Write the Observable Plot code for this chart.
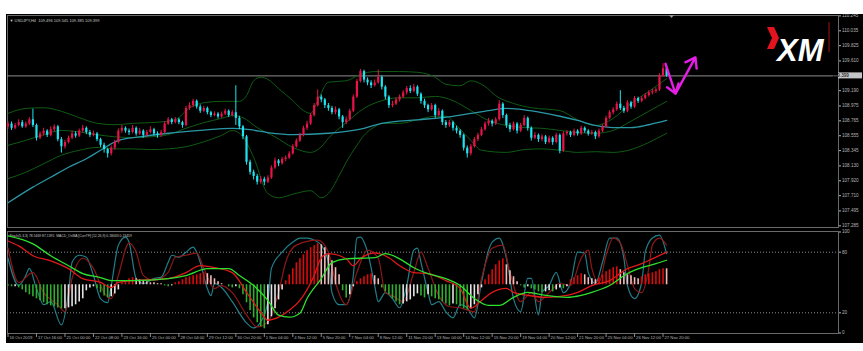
<!DOCTYPE html>
<html><head><meta charset="utf-8">
<script src="https://cdn.jsdelivr.net/npm/d3@7"></script>
<script src="https://cdn.jsdelivr.net/npm/@observablehq/plot@0.6"></script>
<style>
html,body{margin:0;padding:0;background:#fff;}
body{width:863px;height:351px;overflow:hidden;position:relative;}
#wrap{position:absolute;left:6px;top:14px;width:857px;height:329px;background:#000;overflow:hidden;}
#wrap svg{position:absolute;left:0;}
</style></head>
<body><div id="wrap"></div>
<script>
// ---------- DATA ----------
const chartHeader = "\u25BC USDJPY,H4  109.496 109.545 109.385 109.399";
const subHeader = "Stoch(5,3,3) 78.5469 87.1395  MACD_OsMA [CurrTF] (12,26,9) 0.18033 0.13459";
const currentPrice = 109.399;
const priceTicks = [110.245,110.035,109.825,109.610,109.190,108.975,108.765,108.555,108.345,108.130,107.920,107.710,107.495,107.285];
const stochTicks = [100,80,20,0];
const stochLevels = [80,20];
const timeIdx = [0,8,16,24,32,40,48,56,64,72,80,88,96,104,112,120,128,136,144,152,160,168,176,184];
const timeLabels = ["16 Oct 2019","17 Oct 16:00","21 Oct 00:00","22 Oct 08:00","23 Oct 16:00","25 Oct 00:00","28 Oct 04:00","29 Oct 12:00","30 Oct 20:00","1 Nov 04:00","4 Nov 12:00","5 Nov 20:00","7 Nov 04:00","8 Nov 12:00","11 Nov 20:00","13 Nov 04:00","14 Nov 12:00","15 Nov 20:00","19 Nov 04:00","20 Nov 12:00","21 Nov 20:00","25 Nov 04:00","26 Nov 12:00","27 Nov 20:00"];

const open = [108.68,108.72,108.66,108.70,108.74,108.68,108.72,108.78,108.70,108.52,
108.58,108.62,108.56,108.64,108.68,108.50,108.40,108.46,108.52,108.58,
108.55,108.62,108.66,108.60,108.56,108.58,108.50,108.42,108.36,108.30,
108.38,108.46,108.62,108.66,108.62,108.60,108.66,108.58,108.62,108.56,
108.60,108.64,108.58,108.56,108.60,108.72,108.78,108.74,108.78,108.74,
108.70,108.94,108.98,109.04,108.96,108.90,108.94,108.88,108.84,108.86,
108.82,108.86,108.90,108.84,108.88,108.80,108.68,108.54,108.18,108.04,
107.98,107.90,107.94,107.90,107.96,108.10,108.20,108.16,108.22,108.24,
108.30,108.40,108.48,108.56,108.66,108.72,108.84,108.98,109.10,109.06,
108.98,108.94,108.88,108.92,108.82,108.74,108.78,108.90,109.10,109.32,
109.46,109.34,109.30,109.26,109.30,109.38,109.24,109.10,108.98,109.00,
109.06,109.10,109.16,109.22,109.18,109.24,109.14,109.04,108.98,108.92,
108.98,108.84,108.90,108.74,108.70,108.74,108.66,108.62,108.56,108.38,
108.30,108.40,108.50,108.56,108.64,108.72,108.76,108.72,108.78,109.00,
108.84,108.70,108.64,108.72,108.62,108.70,108.80,108.66,108.52,108.56,
108.50,108.54,108.46,108.52,108.46,108.56,108.34,108.58,108.60,108.56,
108.62,108.58,108.66,108.62,108.58,108.60,108.54,108.62,108.68,108.80,
108.88,108.92,109.00,108.94,108.90,109.02,108.96,109.08,109.04,109.08,
109.12,109.16,109.18,109.20,109.40,109.50];
const high = [108.75,108.75,108.73,108.78,108.77,108.75,108.81,108.93,108.72,108.61,
108.66,108.64,108.68,108.71,108.70,108.53,108.49,108.55,108.62,108.61,
108.65,108.70,108.68,108.63,108.62,108.60,108.52,108.45,108.38,108.41,
108.49,108.65,108.70,108.68,108.65,108.70,108.68,108.66,108.64,108.63,
108.68,108.66,108.61,108.63,108.75,108.81,108.80,108.81,108.80,108.76,
108.97,109.02,109.07,109.06,108.99,108.97,108.96,108.90,108.89,108.88,
108.89,108.93,108.92,108.91,109.26,108.83,108.70,108.56,108.21,108.07,
108.01,107.98,107.97,107.99,108.13,108.24,108.22,108.25,108.27,108.33,
108.43,108.51,108.59,108.69,108.76,108.87,109.01,109.20,109.13,109.08,
109.01,108.97,108.96,108.94,108.84,108.82,108.93,109.13,109.35,109.49,
109.48,109.37,109.33,109.34,109.48,109.40,109.26,109.12,109.04,109.09,
109.13,109.19,109.25,109.26,109.28,109.26,109.16,109.07,109.00,109.01,
109.00,108.94,108.92,108.77,108.77,108.76,108.69,108.64,108.58,108.41,
108.43,108.53,108.59,108.67,108.75,108.80,108.78,108.81,109.05,109.02,
108.86,108.73,108.75,108.74,108.73,108.84,108.82,108.68,108.60,108.58,
108.57,108.56,108.55,108.54,108.59,108.58,108.61,108.63,108.62,108.65,
108.64,108.69,108.68,108.64,108.63,108.62,108.65,108.71,108.83,108.91,
108.95,109.03,109.19,108.97,109.05,109.04,109.11,109.10,109.11,109.15,
109.19,109.21,109.23,109.43,109.57,109.55];
const low = [108.65,108.63,108.64,108.68,108.66,108.66,108.70,108.67,108.48,108.50,
108.55,108.53,108.54,108.61,108.47,108.31,108.37,108.44,108.50,108.52,
108.53,108.59,108.57,108.53,108.54,108.47,108.39,108.31,108.24,108.27,
108.35,108.44,108.59,108.59,108.56,108.58,108.55,108.56,108.52,108.54,
108.58,108.55,108.52,108.53,108.58,108.70,108.71,108.72,108.71,108.66,
108.68,108.91,108.95,108.93,108.87,108.88,108.85,108.81,108.82,108.79,
108.80,108.84,108.81,108.82,108.70,108.64,108.50,108.14,108.00,107.93,
107.86,107.87,107.85,107.88,107.94,108.08,108.12,108.14,108.19,108.22,
108.28,108.38,108.46,108.54,108.63,108.70,108.82,108.96,109.02,108.94,
108.90,108.85,108.85,108.78,108.66,108.71,108.76,108.88,109.08,109.30,
109.30,109.26,109.22,109.24,109.28,109.20,109.06,108.94,108.95,108.98,
109.03,109.08,109.13,109.15,109.16,109.11,109.00,108.94,108.88,108.90,
108.80,108.82,108.70,108.66,108.67,108.62,108.58,108.52,108.34,108.24,
108.27,108.38,108.47,108.54,108.62,108.69,108.68,108.70,108.76,108.80,
108.66,108.60,108.62,108.58,108.60,108.68,108.62,108.48,108.50,108.46,
108.47,108.43,108.44,108.42,108.44,108.30,108.32,108.55,108.53,108.54,
108.55,108.56,108.59,108.55,108.56,108.50,108.52,108.60,108.66,108.78,
108.85,108.90,108.91,108.87,108.88,108.93,108.94,109.01,109.02,109.06,
109.10,109.13,109.15,109.18,109.38,109.38];
const close = [108.72,108.66,108.70,108.74,108.68,108.72,108.78,108.70,108.52,108.58,
108.62,108.56,108.64,108.68,108.50,108.40,108.46,108.52,108.58,108.55,
108.62,108.66,108.60,108.56,108.58,108.50,108.42,108.36,108.30,108.38,
108.46,108.62,108.66,108.62,108.60,108.66,108.58,108.62,108.56,108.60,
108.64,108.58,108.56,108.60,108.72,108.78,108.74,108.78,108.74,108.70,
108.94,108.98,109.04,108.96,108.90,108.94,108.88,108.84,108.86,108.82,
108.86,108.90,108.84,108.88,108.80,108.68,108.54,108.18,108.04,107.98,
107.90,107.94,107.90,107.96,108.10,108.20,108.16,108.22,108.24,108.30,
108.40,108.48,108.56,108.66,108.72,108.84,108.98,109.10,109.06,108.98,
108.94,108.88,108.92,108.82,108.74,108.78,108.90,109.10,109.32,109.46,
109.34,109.30,109.26,109.30,109.38,109.24,109.10,108.98,109.00,109.06,
109.10,109.16,109.22,109.18,109.24,109.14,109.04,108.98,108.92,108.98,
108.84,108.90,108.74,108.70,108.74,108.66,108.62,108.56,108.38,108.30,
108.40,108.50,108.56,108.64,108.72,108.76,108.72,108.78,109.00,108.84,
108.70,108.64,108.72,108.62,108.70,108.80,108.66,108.52,108.56,108.50,
108.54,108.46,108.52,108.46,108.56,108.34,108.58,108.60,108.56,108.62,
108.58,108.66,108.62,108.58,108.60,108.54,108.62,108.68,108.80,108.88,
108.92,109.00,108.94,108.90,109.02,108.96,109.08,109.04,109.08,109.12,
109.16,109.18,109.20,109.40,109.50,109.40];

const bbUpIdx = [0,5,10,15,20,25,30,35,40,45,48,50,55,60,65,67,69,71,73,76,80,83,85,87,90,95,99,103,110,115,120,123,127,130,134,137,142,147,155,160,165,170,175,180,185];
const bbUp = [108.87,108.94,108.95,108.90,108.81,108.73,108.71,108.73,108.74,108.76,108.81,108.91,109.02,109.04,109.04,109.12,109.33,109.38,109.35,109.22,109.05,108.91,108.87,109.05,109.31,109.33,109.42,109.46,109.46,109.45,109.38,109.28,109.26,109.33,109.25,109.12,109.01,108.95,108.91,108.78,108.70,108.80,109.01,109.18,109.36];
const bbMidIdx = [0,5,10,15,20,25,30,35,40,45,50,55,60,63,66,70,75,80,85,88,90,95,100,105,110,115,120,125,130,135,140,145,150,155,160,165,170,175,180,185];
const bbMid = [108.42,108.49,108.57,108.63,108.61,108.57,108.54,108.53,108.54,108.57,108.66,108.74,108.80,108.84,108.81,108.67,108.54,108.39,108.32,108.40,108.52,108.74,108.94,109.05,109.09,109.09,109.11,109.05,108.91,108.77,108.70,108.67,108.66,108.63,108.60,108.59,108.63,108.76,108.90,109.04];
const bbLowIdx = [0,5,10,15,20,25,30,35,40,45,50,55,60,63,66,69,73,76,80,85,88,90,93,95,98,100,103,105,110,115,120,123,126,130,133,140,145,150,155,160,165,170,175,180,185];
const bbLow = [107.95,108.04,108.16,108.28,108.35,108.39,108.37,108.37,108.36,108.37,108.40,108.47,108.56,108.63,108.54,108.25,107.74,107.68,107.73,107.78,107.68,107.74,107.99,108.18,108.42,108.56,108.68,108.73,108.73,108.78,108.83,108.83,108.70,108.49,108.35,108.32,108.36,108.37,108.35,108.32,108.33,108.32,108.36,108.46,108.59];
const maIdx = [0,7,12,17,22,26,31,37,45,54,63,68,73,80,90,100,105,115,122,130,135,140,145,150,155,160,165,170,175,180,185];
const maVal = [107.61,107.83,107.97,108.11,108.23,108.35,108.49,108.54,108.59,108.63,108.66,108.64,108.60,108.57,108.59,108.66,108.73,108.78,108.81,108.87,108.91,108.94,108.92,108.88,108.83,108.77,108.70,108.67,108.67,108.71,108.77];

const arrowIdx = [184.7, 187.5, 193.1];
const arrowPrice = [109.57, 109.15, 109.66];

const kIdx = [0,3,5,6,8,10,12,15,17,18,20,22,24,26,28,29,31,33,34,36,38,41,43,45,46,48,50,52,53,54,56,57,58,60,63,67,69,71,73,74,77,80,82,84,86,88,90,91,93,95,97,98,99,101,103,104,106,108,110,112,114,115,116,118,119,121,123,125,127,129,131,133,135,136,138,140,142,144,146,147,149,150,152,154,156,158,160,162,163,165,167,169,171,173,174,176,178,179,181,183,185];
const kVal = [74,47,57,64,44,28,31,8,40,70,77,75,57,34,30,47,87,95,90,54,49,54,55,70,77,75,80,85,80,70,44,37,49,45,31,10,5,11,31,64,80,90,94,94,92,87,70,40,28,28,57,94,95,80,47,31,40,34,25,47,82,84,70,40,28,31,21,15,28,25,15,50,82,90,94,74,34,21,54,54,18,40,47,60,40,49,80,79,60,49,70,94,94,74,47,34,50,80,94,97,78.5];
const dIdx = [0,3,7,10,14,16,18,21,24,27,29,31,34,36,38,41,45,47,50,53,55,58,60,63,67,70,73,76,78,81,87,90,92,95,98,101,104,106,108,111,114,116,118,121,124,127,131,133,136,139,141,144,147,149,152,155,158,161,163,164,166,168,170,172,174,176,178,180,181,183,185];
const dVal = [84,50,60,40,28,21,54,74,64,40,34,57,89,80,57,52,60,75,77,79,64,44,47,40,18,6,11,40,70,87,92,80,50,28,60,82,74,40,37,31,60,80,64,37,26,25,21,54,84,87,60,31,40,31,40,49,47,74,82,64,50,77,94,89,67,44,40,64,87,94,87.1];

const macdIdx = [0,3,7,12,17,21,26,29,31,35,45,50,54,58,63,67,71,73,76,79,82,86,88,90,95,97,99,103,107,110,114,118,123,127,130,133,136,140,142,146,151,157,160,164,169,174,178,181,185];
const macdVal = [0.241,0.214,0.160,0.132,0.089,0.034,0.013,-0.015,0.013,0.023,0.034,0.067,0.105,0.094,0.067,-0.042,-0.151,-0.195,-0.178,-0.140,-0.086,0.051,0.149,0.171,0.143,0.105,0.143,0.176,0.149,0.105,0.067,0.062,0.023,-0.020,-0.129,-0.086,-0.042,-0.020,-0.042,-0.058,-0.069,-0.058,-0.042,-0.004,0.023,0.089,0.116,0.143,0.180];
const sigIdx = [0,7,12,17,21,26,29,35,45,50,56,62,65,69,73,76,79,82,84,88,91,95,103,106,110,114,118,123,127,131,135,138,142,146,151,157,161,164,169,174,178,182,185];
const sigVal = [0.269,0.225,0.160,0.105,0.062,0.040,0.023,0.023,0.034,0.051,0.089,0.089,0.051,-0.004,-0.086,-0.167,-0.178,-0.156,-0.075,0.034,0.122,0.143,0.149,0.171,0.143,0.094,0.062,0.034,-0.004,-0.075,-0.113,-0.113,-0.069,-0.042,-0.058,-0.069,-0.058,-0.042,-0.004,0.062,0.094,0.116,0.135];
const osma = [-0.006,-0.011,-0.011,-0.017,-0.028,-0.044,-0.055,-0.066,-0.077,-0.088,
-0.099,-0.110,-0.116,-0.121,-0.127,-0.132,-0.132,-0.127,-0.121,-0.110,
-0.094,-0.077,-0.033,-0.017,-0.011,-0.022,-0.044,-0.061,-0.072,-0.066,
-0.050,-0.028,0.011,0.022,0.033,0.039,0.033,0.028,0.022,0.017,
0.011,0.011,0.006,0.006,-0.006,-0.011,-0.006,0.011,0.017,0.028,
0.039,0.044,0.050,0.055,0.061,0.066,0.061,0.050,0.033,0.017,
0.006,0,-0.011,-0.017,-0.011,-0.022,-0.055,-0.099,-0.143,-0.182,
-0.209,-0.231,-0.242,-0.220,-0.176,-0.132,-0.083,-0.028,0.022,0.055,
0.088,0.121,0.143,0.165,0.187,0.204,0.215,0.226,0.220,0.204,
0.165,0.132,0.094,0.055,-0.033,-0.072,-0.055,-0.011,0.017,0.033,
0.044,0.055,0.061,0.050,0.033,-0.017,-0.039,-0.055,-0.077,-0.094,
-0.110,-0.105,-0.094,-0.083,-0.066,-0.050,-0.061,-0.072,-0.055,-0.066,
-0.077,-0.083,-0.094,-0.105,-0.116,-0.105,-0.110,-0.121,-0.132,-0.138,
-0.132,-0.110,-0.055,-0.017,0.028,0.055,0.083,0.110,0.132,0.143,
0.110,0.077,0.044,0.017,-0.006,-0.017,-0.011,-0.022,-0.028,-0.039,
-0.044,-0.039,-0.033,-0.039,-0.028,-0.017,-0.022,-0.011,0.028,0.039,
0.050,0.061,0.055,0.039,0.033,0.028,0.039,0.055,0.072,0.083,
0.094,0.099,0.083,0.066,0.055,0.050,0.039,0.033,0.044,0.055,
0.061,0.066,0.072,0.083,0.088,0.088];

// ---------- STYLE / LAYOUT ----------
const FONT = "'Liberation Sans', Arial, sans-serif";
const W = 857;
const X_DOMAIN = [0, 185];
const X_RANGE = [1.5, 660.1];
const BULL = "#e8134a", BEAR = "#1fe3ee";
const BB = "#0f5c14", MA = "#2a97a4";
const H_RED = "#dd0a0a", H_PINK = "#f2bcbc", H_GREEN = "#2fae2f", H_WHITE = "#e4e4e4";

const bars = close.map((c, i) => ({i, o: open[i], h: high[i], l: low[i], c}));
const pts = (idx, val) => idx.map((i, k) => ({i, v: val[k]}));
const candleColor = d => d.c > d.o ? BULL : BEAR;
const arrowSegs = arrowIdx.slice(1).map((_, k) => ({i1: arrowIdx[k], p1: arrowPrice[k], i2: arrowIdx[k + 1], p2: arrowPrice[k + 1]}));
const osmaData = osma.map((v, i) => {
  const prev = i ? osma[i - 1] : 0;
  const color = v >= 0 ? (v > prev ? H_RED : H_PINK) : (v < prev ? H_GREEN : H_WHITE);
  return {i, v, color};
});

const wrap = document.getElementById("wrap");

// ---------- MAIN PRICE PANEL ----------
const main = Plot.plot({
  width: W, height: 216,
  marginLeft: 1, marginRight: 25, marginTop: 1, marginBottom: 3,
  style: {background: "transparent", color: "#b4b4b4", fontSize: "4.6px", fontFamily: FONT, overflow: "visible"},
  x: {domain: X_DOMAIN, range: X_RANGE, axis: null},
  y: {domain: [107.285, 110.245], range: [211.3, 1.4], axis: "right", ticks: priceTicks, tickFormat: d => d.toFixed(3), tickSize: 2, tickPadding: 1.5, label: null},
  color: {type: "identity"},
  marks: [
    Plot.frame({stroke: "#6a6a6a"}),
    Plot.ruleY([currentPrice], {stroke: "#8e8e8e", strokeWidth: 1}),
    Plot.line(pts(bbUpIdx, bbUp), {x: "i", y: "v", stroke: BB, strokeWidth: 1, curve: "monotone-x"}),
    Plot.line(pts(bbMidIdx, bbMid), {x: "i", y: "v", stroke: BB, strokeWidth: 1, curve: "monotone-x"}),
    Plot.line(pts(bbLowIdx, bbLow), {x: "i", y: "v", stroke: BB, strokeWidth: 1, curve: "monotone-x"}),
    Plot.line(pts(maIdx, maVal), {x: "i", y: "v", stroke: MA, strokeWidth: 1.3, curve: "monotone-x"}),
    Plot.ruleX(bars, {x: "i", y1: "l", y2: "h", stroke: candleColor, strokeWidth: 1}),
    Plot.ruleX(bars, {x: "i", y1: "o", y2: "c", stroke: candleColor, strokeWidth: 2.2}),
    Plot.arrow(arrowSegs, {x1: "i1", y1: "p1", x2: "i2", y2: "p2", stroke: "#e41ee4", strokeWidth: 2.4, headLength: 7, headAngle: 70}),
    Plot.text([chartHeader], {frameAnchor: "top-left", dx: 2, dy: 4, textAnchor: "start", fontSize: 4, fill: "#c8c8c8"}),
    Plot.text(["XM"], {frameAnchor: "top-right", textAnchor: "end", dx: -15, dy: 23.5, fontSize: 31, fontWeight: "bold", fontStyle: "italic", fill: "#ffffff"})
  ]
});
main.style.top = "0px";
wrap.appendChild(main);
{
  const s = d3.select(main);
  const ys = main.scale("y");
  const yp = ys.apply(currentPrice);
  s.append("rect").attr("x", 832).attr("y", yp - 3).attr("width", 24).attr("height", 6).attr("fill", "#c4c4c4");
  s.append("text").attr("x", 834.5).attr("y", yp).attr("dy", "0.35em").attr("font-size", 4.6).attr("font-family", FONT).attr("fill", "#000").text(currentPrice.toFixed(3));
  s.append("polygon").attr("points", "761,13 768,13 773,24 768,35 761,35 766,24").attr("fill", "#e3141e");
  s.append("line").attr("x1", 823).attr("x2", 823).attr("y1", 8).attr("y2", 38).attr("stroke", "#a01010").attr("stroke-width", 1);
  s.append("polygon").attr("points", "663,1 668,1 665.5,4").attr("fill", "#9a9a9a");
}

// ---------- LOWER PANEL: STOCHASTIC ----------
const stoch = Plot.plot({
  width: W, height: 113,
  marginLeft: 1, marginRight: 25, marginTop: 1, marginBottom: 10,
  style: {background: "transparent", color: "#b4b4b4", fontSize: "4.6px", fontFamily: FONT, overflow: "visible"},
  x: {domain: X_DOMAIN, range: X_RANGE, axis: null},
  y: {domain: [0, 100], range: [102.5, 1.5], axis: "right", ticks: stochTicks, tickSize: 2, tickPadding: 1.5, label: null},
  marks: [
    Plot.frame({stroke: "#6a6a6a"}),
    Plot.ruleY(stochLevels, {stroke: "#8a8a8a", strokeDasharray: "1,2"}),
    Plot.line(pts(kIdx, kVal), {x: "i", y: "v", stroke: "#227e89", strokeWidth: 1.2, curve: "monotone-x"}),
    Plot.line(pts(dIdx, dVal), {x: "i", y: "v", stroke: "#8e1818", strokeWidth: 1.2, curve: "monotone-x"}),
    Plot.ruleX(timeIdx, {x: d => d, y1: -0.5, y2: -4.5, stroke: "#8a8a8a"}),
    Plot.text(timeIdx, {x: d => d, text: (d, k) => timeLabels[k], frameAnchor: "bottom", dy: 5, dx: 1.5, textAnchor: "start", fontSize: 4.2, fill: "#b4b4b4"}),
    Plot.text([subHeader], {frameAnchor: "top-left", dx: 2, dy: 3, textAnchor: "start", fontSize: 3.4, fill: "#c8c8c8"})
  ]
});
stoch.style.top = "216px";
wrap.appendChild(stoch);

// ---------- LOWER PANEL: MACD / OsMA overlay ----------
const macd = Plot.plot({
  width: W, height: 113,
  marginLeft: 1, marginRight: 25, marginTop: 1, marginBottom: 10,
  style: {background: "transparent", overflow: "visible"},
  x: {domain: X_DOMAIN, range: X_RANGE, axis: null},
  y: {domain: [-0.2651, 0.2904], range: [102.5, 1.5], axis: null},
  color: {type: "identity"},
  marks: [
    Plot.ruleX(osmaData, {x: "i", y1: 0, y2: "v", stroke: "color", strokeWidth: 1.6}),
    Plot.line(pts(macdIdx, macdVal), {x: "i", y: "v", stroke: "#e01a1a", strokeWidth: 1.3, curve: "monotone-x"}),
    Plot.line(pts(sigIdx, sigVal), {x: "i", y: "v", stroke: "#2ee02e", strokeWidth: 1.3, curve: "monotone-x"})
  ]
});
macd.style.top = "216px";
wrap.appendChild(macd);
</script></body></html>
